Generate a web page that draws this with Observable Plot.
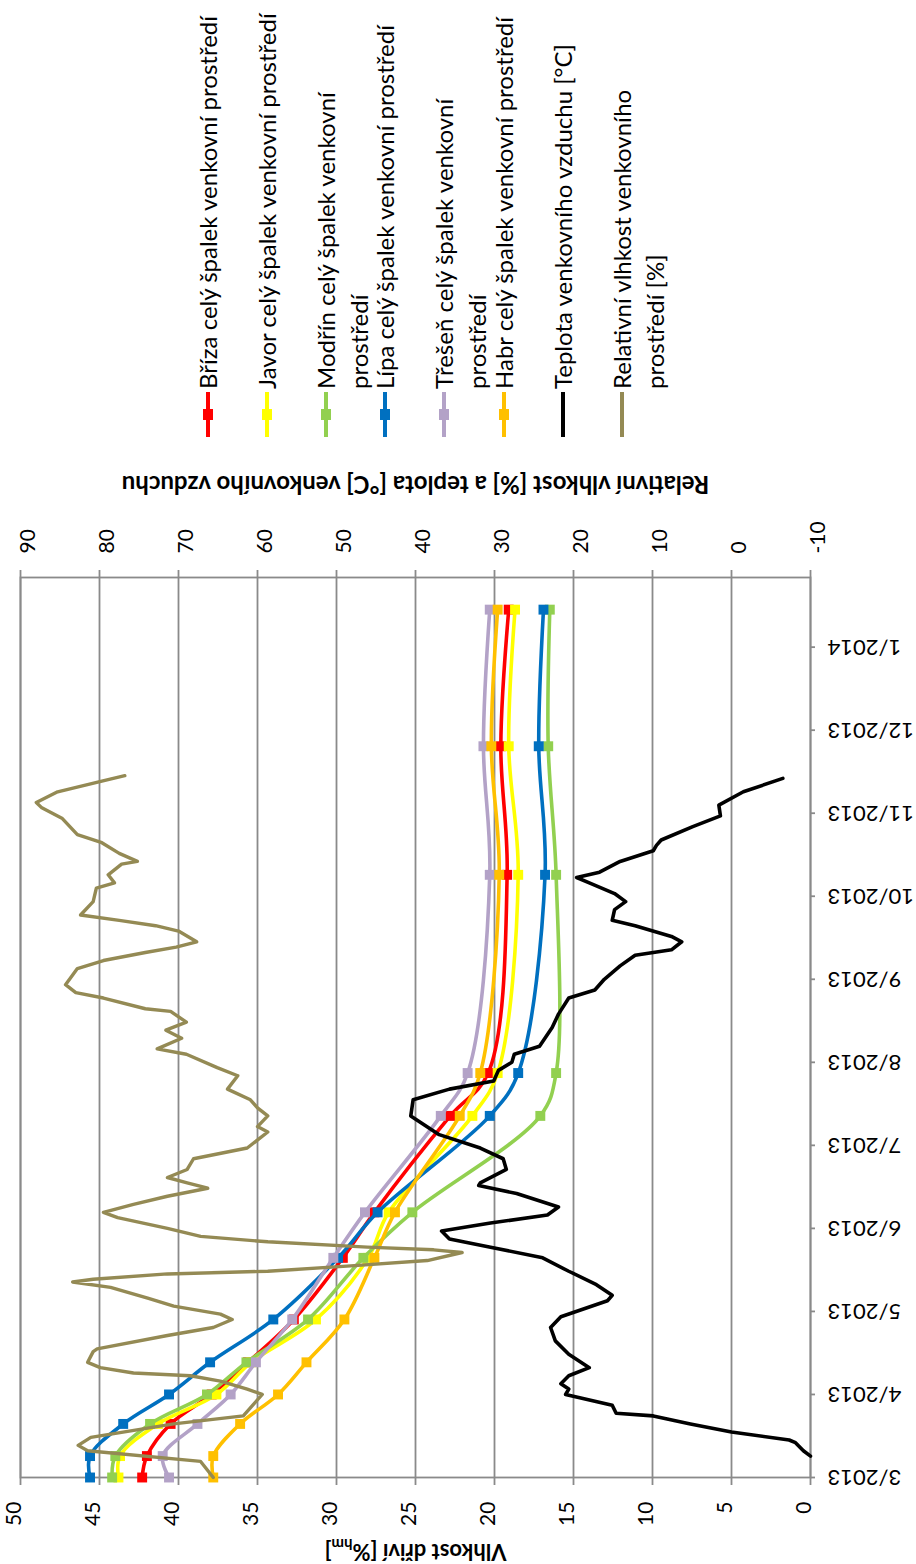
<!DOCTYPE html>
<html><head><meta charset="utf-8">
<script src="https://cdn.jsdelivr.net/npm/d3@7"></script>
<script src="https://cdn.jsdelivr.net/npm/@observablehq/plot@0.6"></script>
<style>
html,body{margin:0;padding:0;background:#fff;}
#wrap{position:relative;width:916px;height:1564px;overflow:hidden;font-family:Lato,"Open Sans",sans-serif;}
#legend{position:relative;width:916px;height:450px;}
#legend .ln{position:absolute;white-space:nowrap;transform:rotate(-90deg);transform-origin:0 0;font-size:24px;line-height:28px;height:28px;color:#000;}
#legend svg{position:absolute;}
#chart svg{display:block;}
</style></head><body>
<div id="wrap"><div id="legend"></div><div id="chart"></div></div>
<script>
// ---- data (days since 1 March 2013) ----
const markerDays = [0, 8, 20, 31, 43, 59, 82, 99, 135, 151, 225, 273, 324];
const briza  = [42.3, 42.0, 40.5, 37.9, 35.6, 32.7, 29.6, 27.6, 22.8, 20.4, 19.2, 19.6, 19.1];
const javor  = [43.8, 43.7, 41.3, 37.6, 35.4, 31.3, 28.0, 26.7, 21.4, 19.8, 18.5, 19.1, 18.7];
const modrin = [44.2, 44.0, 41.8, 38.2, 35.7, 31.8, 28.3, 25.2, 17.1, 16.1, 16.1, 16.6, 16.5];
const lipa   = [45.6, 45.6, 43.5, 40.6, 38.0, 34.0, 29.9, 27.4, 20.3, 18.5, 16.8, 17.2, 16.9];
const tresen = [40.6, 41.0, 38.8, 36.7, 35.1, 32.8, 30.2, 28.2, 23.4, 21.7, 20.3, 20.7, 20.3];
const habr   = [37.8, 37.8, 36.1, 33.7, 31.9, 29.5, 27.6, 26.3, 22.2, 20.9, 19.7, 20.2, 19.8];

const dayT = [8,10,13,14,17,20,23,24,27,31,33,35,38,41,46,51,56,60,66,68,72,77,82,86,89,92,95,98,101,106,109,110,115,119,123,128,135,141,145,148,152,155,158,161,168,173,179,182,186,191,195,197,200,202,206,208,212,215,218,222,224,226,230,234,236,238,243,247,251,256,261];
const teplota = [-10.0,-9.1,-8.1,-7.3,0.0,5.2,9.9,14.6,15.1,21.0,20.6,21.6,20.6,18.0,20.6,22.3,22.9,21.6,15.7,15.1,17.1,20.6,23.9,30.5,35.7,36.7,30.5,23.3,21.9,27.2,32.0,31.8,28.5,28.9,31.8,37.0,40.6,40.3,35.7,30.1,29.5,27.8,27.5,24.3,22.7,21.9,20.6,17.3,16.1,14.1,12.2,7.6,6.3,7.6,12.2,15.1,14.8,13.4,14.8,18.0,19.6,16.7,14.1,9.9,9.5,8.9,4.9,1.4,1.6,-1.5,-6.5];

const dayRH = [0,6,10,12,15,20,23,31,33,36,38,39,41,43,47,48,53,56,59,61,64,67,71,73,74,76,77,79,81,84,85,86,88,90,93,97,99,102,105,108,110,112,115,119,123,129,131,135,138,141,145,150,153,158,160,164,167,170,174,175,179,181,184,190,193,196,198,200,204,206,208,210,215,220,222,225,229,230,233,237,240,246,250,252,256,260,262];
const vlhkost = [65.6,67.2,81.5,82.7,81.1,70.6,61.8,59.4,61.3,64.7,68.5,75.7,79.9,81.5,80.8,80.3,71.4,65.6,63.2,64.7,70.6,73.9,78.6,83.4,80.8,71.4,58.7,48.2,38.5,34.1,37.7,46.1,58.7,67.2,71.4,77.7,79.5,75.7,71.4,66.3,68.9,71.4,68.9,68.1,61.3,58.7,60.0,58.7,60.0,60.9,63.8,62.5,65.1,69.0,72.7,69.6,71.6,69.0,71.0,74.2,79.5,83.0,84.3,82.8,79.5,74.2,70.3,67.7,70.0,72.9,77.5,82.4,80.8,80.4,78.1,78.9,77.2,75.2,77.5,79.7,82.8,84.7,87.3,88.0,85.3,79.7,76.8];

const primaryTicks = [0, 5, 10, 15, 20, 25, 30, 35, 40, 45, 50];
const secondaryTicks = [-10, 0, 10, 20, 30, 40, 50, 60, 70, 80, 90];
const dateTickStr = ["2013-03-01","2013-04-01","2013-05-02","2013-06-02","2013-07-03","2013-08-03","2013-09-03","2013-10-04","2013-11-04","2013-12-05","2014-01-05"];
const dateTickLabels = ["3/2013","4/2013","5/2013","6/2013","7/2013","8/2013","9/2013","10/2013","11/2013","12/2013","1/2014"];

const seriesValues = [briza, javor, modrin, lipa, tresen, habr];
const seriesColors = ["#FF0000", "#FFFF00", "#92D050", "#0070C0", "#B3A2C7", "#FFC000"];
const legendLines = [
  ["Bříza celý špalek venkovní prostředí"],
  ["Javor celý špalek venkovní prostředí"],
  ["Modřín celý špalek venkovní", "prostředí"],
  ["Lípa celý špalek venkovní prostředí"],
  ["Třešeň  celý špalek venkovní", "prostředí"],
  ["Habr celý špalek venkovní prostředí"],
  ["Teplota venkovního vzduchu [°C]"],
  ["Relativní vlhkost venkovního", "prostředí [%]"]
];
const legendColors = [...seriesColors, "#000000", "#948A54"];
const legendMarker = [true, true, true, true, true, true, false, false];
const titleSecondary = "Relativní vlhkost [%] a teplota [°C] venkovního vzduchu";
const titlePrimary = "Vlhkost dřiví [%hm]";

// ---- helpers ----
const start = new Date(Date.UTC(2013, 2, 1));
const toDate = d => d3.utcDay.offset(start, d);
const sec = s => (s + 10) / 2; // secondary axis value -> primary units

// ---- legend ----
const leg = document.getElementById("legend");
legendLines.forEach((lines, i) => {
  const cx = 208 + i * 59.1;
  const col = legendColors[i];
  const s = document.createElementNS("http://www.w3.org/2000/svg", "svg");
  s.setAttribute("width", 16); s.setAttribute("height", 48);
  s.style.left = (cx - 8) + "px"; s.style.top = "391px";
  let inner = `<line x1="8" x2="8" y1="1" y2="46" stroke="${col}" stroke-width="4"/>`;
  if (legendMarker[i]) inner += `<rect x="3" y="18" width="10" height="11" fill="${col}"/>`;
  s.innerHTML = inner;
  leg.appendChild(s);
  lines.forEach((t, j) => {
    const sp = document.createElement("div");
    sp.className = "ln";
    sp.textContent = t;
    sp.style.left = (cx - 14 + j * 33) + "px";
    sp.style.top = "389px";
    leg.appendChild(sp);
  });
});

// ---- chart ----
const woodRows = seriesValues.map((vals, k) => markerDays.map((d, i) => ({date: toDate(d), v: vals[i]})));
const tRows = dayT.map((d, i) => ({date: toDate(d), v: sec(teplota[i])}));
const rhRows = dayRH.map((d, i) => ({date: toDate(d), v: sec(vlhkost[i])}));
const dateRows = dateTickStr.map((s, i) => ({date: new Date(s + "T00:00:00Z"), label: dateTickLabels[i]}));

const W = 916, H = 1114, mL = 20, mR = 106, mT = 127, mB = 87;
const frameW = W - mL - mR;
const gray = "#8a8a8a";

const marks = [
  Plot.tickX(primaryTicks, {x: d => d, stroke: gray, strokeWidth: 1.8, insetTop: -7, insetBottom: -8}),
  Plot.frame({stroke: gray, strokeWidth: 1.8}),
  Plot.tickY(dateRows, {y: "date", stroke: gray, strokeWidth: 1.8, insetLeft: frameW, insetRight: -5})
];
woodRows.forEach((rows, k) => {
  marks.push(Plot.line(rows, {x: "v", y: "date", stroke: seriesColors[k], strokeWidth: 3.6, curve: "catmull-rom"}));
  marks.push(Plot.dot(rows, {x: "v", y: "date", symbol: "square", r: 5.6, fill: seriesColors[k], stroke: null}));
});
marks.push(Plot.line(tRows, {x: "v", y: "date", stroke: "#000", strokeWidth: 3.6}));
marks.push(Plot.line(rhRows, {x: "v", y: "date", stroke: "#948A54", strokeWidth: 3.4}));
marks.push(
  Plot.text(primaryTicks, {x: d => d, text: d => String(d), frameAnchor: "bottom", dy: 24, rotate: -90, textAnchor: "end", fontSize: 21}),
  Plot.text(secondaryTicks, {x: d => sec(d), text: d => String(d), frameAnchor: "top", dy: -24, rotate: -90, textAnchor: "start", fontSize: 21}),
  Plot.text(dateRows, {y: "date", text: "label", frameAnchor: "right", dx: 17, rotate: 180, textAnchor: "end", fontSize: 22}),
  Plot.text([titleSecondary], {text: d => d, frameAnchor: "top", dy: -84, rotate: 180, fontWeight: "bold", fontSize: 24}),
  Plot.text([titlePrimary], {text: d => d, frameAnchor: "bottom", dy: 66, rotate: 180, fontWeight: "bold", fontSize: 22})
);

const chart = Plot.plot({
  width: W, height: H,
  marginLeft: mL, marginRight: mR, marginTop: mT, marginBottom: mB,
  style: {fontFamily: "Lato, 'Open Sans', sans-serif", background: "#fff", color: "#000", overflow: "visible"},
  x: {domain: [50, 0], axis: null},
  y: {type: "utc", domain: [start, toDate(336)], axis: null},
  marks
});
document.getElementById("chart").appendChild(chart);

// subscript "hm" in the primary axis title
chart.querySelectorAll("text").forEach(t => {
  if (t.textContent === titlePrimary) {
    const ns = "http://www.w3.org/2000/svg";
    t.textContent = "Vlhkost dřiví [%";
    const a = document.createElementNS(ns, "tspan");
    a.setAttribute("dy", "5"); a.setAttribute("font-size", "15"); a.textContent = "hm";
    const b = document.createElementNS(ns, "tspan");
    b.setAttribute("dy", "-5"); b.textContent = "]";
    t.appendChild(a); t.appendChild(b);
  }
});
</script>
</body></html>
